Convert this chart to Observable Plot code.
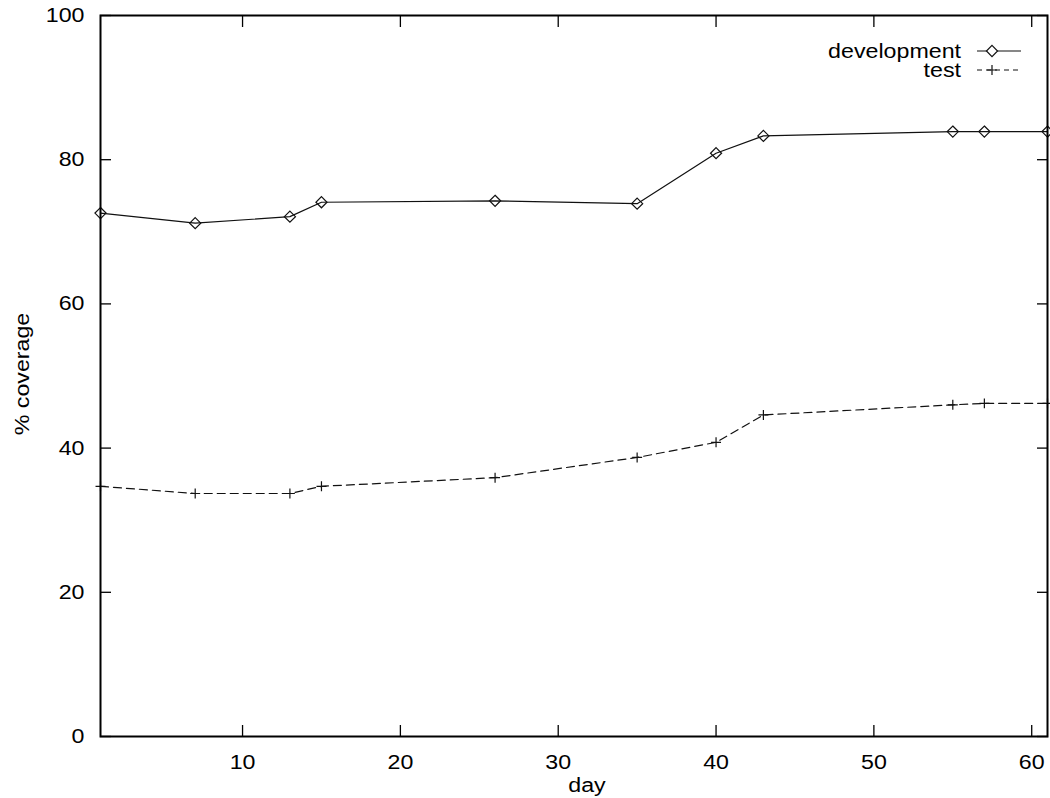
<!DOCTYPE html>
<html><head><meta charset="utf-8">
<script src="https://cdn.jsdelivr.net/npm/d3@7"></script>
<script src="https://cdn.jsdelivr.net/npm/@observablehq/plot@0.6"></script>
<style>
html,body{margin:0;padding:0;background:#fff;}
#chart svg{display:block;}
</style>
</head><body><div id="chart"></div>
<script>
// ---- data ----
const days = [1, 7, 13, 15, 26, 35, 40, 43, 55, 57, 61];
const development = [72.6, 71.2, 72.1, 74.1, 74.3, 73.9, 80.9, 83.3, 83.9, 83.9, 83.9];
const test = [34.7, 33.7, 33.7, 34.7, 35.9, 38.7, 40.8, 44.6, 46.0, 46.2, 46.2];
const xTicks = [10, 20, 30, 40, 50, 60];
const yTicks = [0, 20, 40, 60, 80, 100];
const seriesNames = ["development", "test"];
const xLabel = "day";
const yLabel = "% coverage";

// ---- layout ----
const W = 1050, H = 798, mL = 100, mR = 3, mT = 15, mB = 62;
const FONT = "'Liberation Sans', Arial, Helvetica, sans-serif";
const FS = 20;
const STRETCH = 1.16;
const INK = "#111";

const devData = days.map((d, i) => ({day: d, value: development[i]}));
const testData = days.map((d, i) => ({day: d, value: test[i]}));

const chart = Plot.plot({
  width: W, height: H,
  marginLeft: mL, marginRight: mR, marginTop: mT, marginBottom: mB,
  style: {fontFamily: FONT, fontSize: FS + "px", color: "#000", background: "#fff", overflow: "visible"},
  x: {domain: [1, 61], label: null},
  y: {domain: [0, 100], label: null},
  marks: [
    Plot.axisX(xTicks, {anchor: "bottom", tickSize: -11, tickFormat: () => "", strokeWidth: 1.3, label: null}),
    Plot.axisX(xTicks, {anchor: "top", tickSize: -11, tickFormat: () => "", strokeWidth: 1.3, label: null}),
    Plot.axisY(yTicks, {anchor: "left", tickSize: -11, tickFormat: () => "", strokeWidth: 1.3, label: null}),
    Plot.axisY(yTicks, {anchor: "right", tickSize: -11, tickFormat: () => "", strokeWidth: 1.3, label: null}),
    Plot.axisX(xTicks, {anchor: "bottom", tickSize: 0, tickPadding: 18, label: null}),
    Plot.axisY(yTicks, {anchor: "left", tickSize: 0, tickPadding: 16, label: null}),
    Plot.line(devData, {x: "day", y: "value", stroke: INK, strokeWidth: 1.2}),
    Plot.dot(devData, {x: "day", y: "value", symbol: "diamond2", r: 5, stroke: INK, fill: "none", strokeWidth: 1.2}),
    Plot.line(testData, {x: "day", y: "value", stroke: INK, strokeWidth: 1.2, strokeDasharray: "8,5"}),
    Plot.dot(testData, {x: "day", y: "value", symbol: "plus", r: 3.3, stroke: INK, strokeWidth: 1.2}),
    Plot.frame({stroke: "#000", strokeWidth: 2})
  ]
});

document.getElementById("chart").appendChild(chart);
const svg = d3.select(chart);

// ---- axis titles ----
svg.append("text").attr("x", 587).attr("y", 792)
  .attr("text-anchor", "middle").attr("font-family", FONT).attr("font-size", FS).attr("fill", "#000")
  .text(xLabel);
svg.append("text").attr("transform", "translate(29,374) rotate(-90)")
  .attr("text-anchor", "middle").attr("font-family", FONT).attr("font-size", FS).attr("fill", "#000")
  .text(yLabel);

// ---- legend (key, top right) ----
const key = svg.append("g").attr("font-family", FONT).attr("font-size", FS);
const keyRows = [
  {name: seriesNames[0], y: 51, dash: null, symbol: d3.symbolDiamond2, size: Math.PI * 25},
  {name: seriesNames[1], y: 70, dash: "5,4", symbol: d3.symbolPlus, size: Math.PI * 3.3 * 3.3}
];
keyRows.forEach(r => {
  key.append("text").attr("x", 961).attr("y", r.y).attr("dy", "0.35em")
    .attr("text-anchor", "end").attr("fill", "#000").text(r.name);
  key.append("line").attr("x1", 977).attr("x2", 1021).attr("y1", r.y).attr("y2", r.y)
    .attr("stroke", INK).attr("stroke-width", 1.2).attr("stroke-dasharray", r.dash);
  key.append("path").attr("transform", `translate(992,${r.y})`)
    .attr("d", d3.symbol(r.symbol, r.size)()).attr("fill", r.name === seriesNames[0] ? "#fff" : "none")
    .attr("stroke", INK).attr("stroke-width", 1.2);
});

// ---- widen glyphs like the original rendering ----
chart.querySelectorAll("text").forEach(t => {
  const len = t.getComputedTextLength();
  if (len > 0) {
    t.setAttribute("textLength", (len * STRETCH).toFixed(1));
    t.setAttribute("lengthAdjust", "spacingAndGlyphs");
  }
});
</script>
</body></html>
